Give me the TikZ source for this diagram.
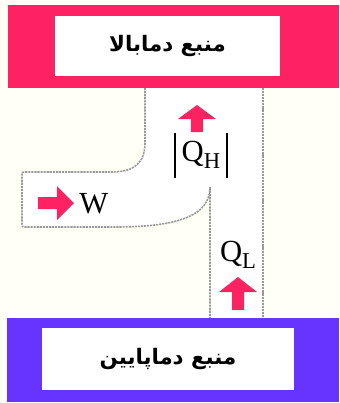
\documentclass[tikz,border=0pt]{standalone}
\usepackage{fontspec}
\setmainfont{Liberation Serif}
\newfontfamily\arabicfont[Script=Arabic]{DejaVu Sans}
\TeXXeTstate=1
\definecolor{hotred}{HTML}{FF2262}
\definecolor{coldblue}{HTML}{6633FF}
\definecolor{bgcream}{HTML}{FFFFF6}
\definecolor{wallgray}{HTML}{999999}
\tikzset{
  wall/.style={draw=wallgray, line width=1.2pt, dash pattern=on 1.6pt off 0.7pt},
  blockarrow/.style={fill=hotred, draw=none},
  reservoir/.style={draw=none, inner sep=0pt},
  label/.style={inner sep=0pt, font=\fontsize{23}{26}\selectfont},
  rtext/.style={font=\arabicfont\bfseries\fontsize{16}{19}\selectfont},
  absbar/.style={draw=black, line width=0.8pt},
}
\begin{document}
\begin{tikzpicture}[x=0.75pt,y=-0.75pt]
\useasboundingbox (0,0) rectangle (339,403);
\fill[bgcream] (0,0) rectangle (339,403);
% channel interior
\fill[white] (145,88) -- (145,143) .. controls (145,162) and (135,172) .. (112,172) -- (22,172) -- (22,227) -- (115,227) .. controls (180,227) and (210,215) .. (210,187) -- (210,318) -- (263,318) -- (263,88) -- cycle;
% hot reservoir
\fill[hotred] (8,5) rectangle (339,88);
\node[reservoir, fill=white, minimum width=225*0.75pt, minimum height=60*0.75pt] (hotbox) at (167.5,46) {};
\node[rtext] (hottext) at (hotbox.center) {\beginR منبع دمابالا\endR};
% cold reservoir
\fill[coldblue] (7,318) rectangle (339,402);
\node[reservoir, fill=white, minimum width=252*0.75pt, minimum height=62*0.75pt] (coldbox) at (168,359) {};
\node[rtext] (coldtext) at (coldbox.center) {\beginR منبع دماپایین\endR};
% channel walls
\draw[wall] (263,88) -- (263,318);
\draw[wall] (145,88) -- (145,143) .. controls (145,162) and (135,172) .. (112,172) -- (25,172) .. controls (22,172) and (22,172) .. (22,175) -- (22,224) .. controls (22,227) and (22,227) .. (25,227) -- (115,227) .. controls (180,227) and (210,215) .. (210,187) -- (210,318);
% arrows
\fill[blockarrow] (197,105) -- (216,119) -- (203,119) -- (203,132) -- (191,132) -- (191,119) -- (178,119) -- cycle;
\fill[blockarrow] (238,277) -- (257,292) -- (244,292) -- (244,310) -- (232,310) -- (232,292) -- (219,292) -- cycle;
\fill[blockarrow] (74,203) -- (57,186) -- (57,197) -- (38,197) -- (38,209) -- (57,209) -- (57,220) -- cycle;
% labels
\node[label] (qh) at (201,155) {Q\raisebox{-0.45ex}{\fontsize{17}{19}\selectfont H}};
\coordinate (barlt) at (175,133);
\coordinate (barlb) at (175,178);
\coordinate (barrt) at (227,133);
\coordinate (barrb) at (227,178);
\draw[absbar] (barlt) -- (barlb);
\draw[absbar] (barrt) -- (barrb);
\node[label, anchor=west] (w) at (79,204) {W};
\node[label] (ql) at (238,255) {Q\raisebox{-0.45ex}{\fontsize{17}{19}\selectfont L}};
\end{tikzpicture}
\end{document}
